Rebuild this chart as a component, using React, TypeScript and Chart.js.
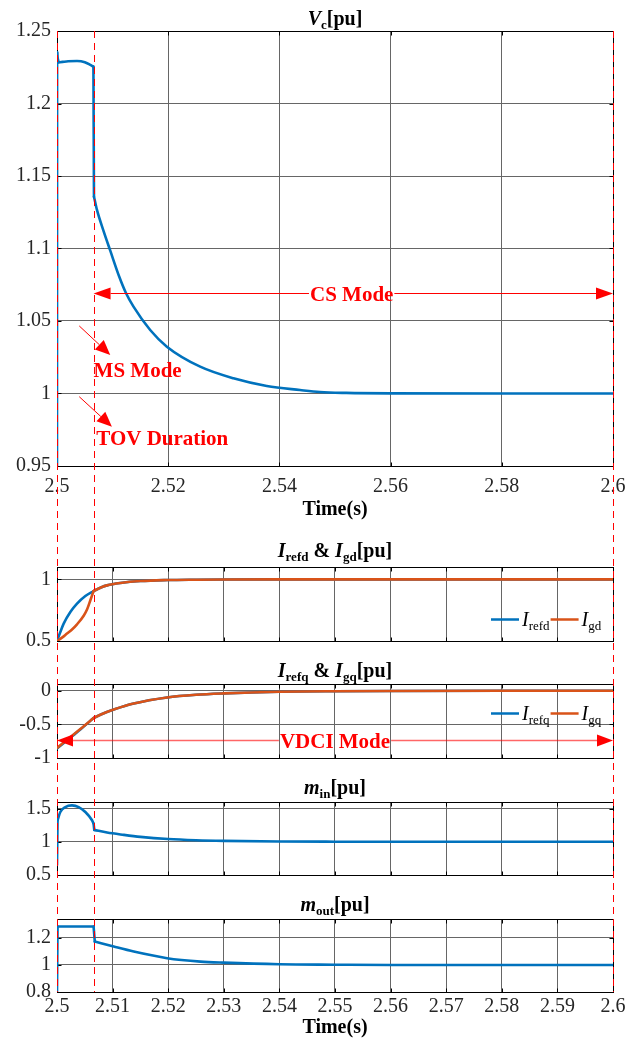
import React, { useEffect, useRef } from 'react';
import { Chart, registerables } from 'chart.js';

Chart.register(...registerables);

const FONT = "'Liberation Serif', 'Times New Roman', Times, serif";
const BLUE = '#0072BD';
const ORANGE = '#D95319';
const RED = '#FF0000';
const GRID = '#666666';
const TICK_TEXT = '#262626';

// ---- axis ticks ----
const X_TICKS_MAIN = [2.5, 2.52, 2.54, 2.56, 2.58, 2.6];
const X_TICKS_FINE = [2.5, 2.51, 2.52, 2.53, 2.54, 2.55, 2.56, 2.57, 2.58, 2.59, 2.6];
const Y_TICKS_VC = [0.95, 1, 1.05, 1.1, 1.15, 1.2, 1.25];
const Y_TICKS_ID = [0.5, 1];
const Y_TICKS_IQ = [-1, -0.5, 0];
const Y_TICKS_MIN = [0.5, 1, 1.5];
const Y_TICKS_MOUT = [0.8, 1, 1.2];

// ---- event instants (s) ----
const T_FAULT = 2.5;
const T_SWITCH = 2.50658;
const T_END = 2.6;

// ---- capacitor voltage ----
const T_VC = [2.5, 2.50002, 2.5001, 2.5003, 2.501, 2.502, 2.5036, 2.505, 2.506, 2.50655, 2.50665, 2.50719, 2.50838, 2.50958, 2.5112, 2.5124, 2.51376, 2.51676, 2.51976, 2.52575, 2.53173, 2.53773, 2.54371, 2.5473, 2.552, 2.56, 2.58, 2.6];
const VC = [0.95, 1.2353, 1.232, 1.2284, 1.2287, 1.2291, 1.2293, 1.2285, 1.2266, 1.2254, 1.1357, 1.1266, 1.112, 1.0985, 1.0805, 1.0693, 1.0599, 1.0438, 1.0323, 1.0185, 1.0105, 1.0052, 1.0024, 1.001, 1.0004, 1.0001, 1.0, 1.0];
const VC_BREAKS = [2.50002, 2.5003, 2.50655, 2.50665];

// ---- d-axis current ----
const T_REFD = [2.5, 2.5006, 2.5012, 2.5024, 2.5036, 2.5051, 2.50658, 2.508, 2.509, 2.5114, 2.515, 2.52, 2.525, 2.53, 2.54, 2.56, 2.6];
const IREFD = [0.5, 0.573, 0.641, 0.735, 0.803, 0.865, 0.905, 0.936, 0.951, 0.97, 0.986, 0.994, 0.997, 0.999, 1.0, 1.0, 1.0];
const T_GD = [2.5, 2.5009, 2.5018, 2.5027, 2.5036, 2.5048, 2.5054, 2.506, 2.50658, 2.508, 2.509, 2.5114, 2.515, 2.52, 2.525, 2.53, 2.54, 2.56, 2.6];
const IGD = [0.5, 0.527, 0.56, 0.593, 0.635, 0.705, 0.755, 0.83, 0.905, 0.936, 0.951, 0.97, 0.986, 0.994, 0.997, 0.999, 1.0, 1.0, 1.0];
const ID_BREAKS = [2.50658];

// ---- q-axis current ----
const T_Q = [2.5, 2.5018, 2.5042, 2.50658, 2.508, 2.5102, 2.5138, 2.5198, 2.525, 2.53, 2.54, 2.55, 2.56, 2.58, 2.6];
const IREFQ = [-0.86, -0.738, -0.576, -0.406, -0.35, -0.28, -0.19, -0.1, -0.06, -0.04, -0.016, -0.007, -0.003, 0, 0];
const IGQ = [-0.85, -0.728, -0.569, -0.406, -0.35, -0.28, -0.19, -0.1, -0.06, -0.04, -0.016, -0.007, -0.003, 0, 0];
const IQ_BREAKS = [2.50658];

// ---- modulation indices ----
const T_MIN = [2.5, 2.5001, 2.5006, 2.5015, 2.5027, 2.5039, 2.5051, 2.5063, 2.50658, 2.5067, 2.509, 2.512, 2.515, 2.52, 2.525, 2.53, 2.54, 2.55, 2.56, 2.6];
const M_IN = [0.651, 1.325, 1.449, 1.524, 1.549, 1.524, 1.449, 1.325, 1.275, 1.18, 1.14, 1.105, 1.075, 1.042, 1.024, 1.014, 1.005, 1.002, 1.0005, 1.0];
const MIN_BREAKS = [2.5001, 2.50658, 2.5067];
const T_MOUT = [2.5, 2.5001, 2.50658, 2.5068, 2.5102, 2.5138, 2.5198, 2.5258, 2.53, 2.54, 2.55, 2.56, 2.6];
const M_OUT = [0.8, 1.284, 1.284, 1.173, 1.136, 1.099, 1.05, 1.025, 1.017, 1.005, 1.002, 1.0, 1.0];
const MOUT_BREAKS = [2.5001, 2.50658, 2.5068];

// ---- annotation anchors (data coordinates) ----
const CS_MODE_V = 1.0693;
const CS_MODE_T = 2.553;
const MS_ARROW_FROM = { t: 2.504, v: 1.0466 };
const MS_ARROW_TO = { t: 2.50958, v: 1.0266 };
const MS_LABEL_AT = { t: 2.50658, v: 1.0116 };
const TOV_ARROW_FROM = { t: 2.504, v: 0.9978 };
const TOV_ARROW_TO = { t: 2.50988, v: 0.9771 };
const TOV_LABEL_AT = { t: 2.50706, v: 0.9645 };
const VDCI_V = -0.727;
const VDCI_T = 2.55;

type Seg = { t: string; it?: boolean; sub?: boolean };

function segFont(s: Seg, size: number, bold: boolean) {
  const sz = s.sub ? Math.round(size * 0.65) : size;
  return `${s.it ? 'italic ' : ''}${bold ? 'bold ' : ''}${sz}px ${FONT}`;
}

function drawRich(ctx: CanvasRenderingContext2D, segs: Seg[], x: number, baseline: number, size: number, bold: boolean, center: boolean) {
  let w = 0;
  for (const s of segs) {
    ctx.font = segFont(s, size, bold);
    w += ctx.measureText(s.t).width;
  }
  let cx = center ? x - w / 2 : x;
  ctx.textAlign = 'left';
  ctx.textBaseline = 'alphabetic';
  for (const s of segs) {
    ctx.font = segFont(s, size, bold);
    ctx.fillText(s.t, cx, s.sub ? baseline + size * 0.2 : baseline);
    cx += ctx.measureText(s.t).width;
  }
  return cx;
}

function arrow(ctx: CanvasRenderingContext2D, x0: number, y0: number, x1: number, y1: number, len: number, half: number) {
  const a = Math.atan2(y1 - y0, x1 - x0);
  const bx = x1 - len * Math.cos(a);
  const by = y1 - len * Math.sin(a);
  ctx.beginPath();
  ctx.moveTo(x0, y0);
  ctx.lineTo(bx, by);
  ctx.stroke();
  ctx.beginPath();
  ctx.moveTo(x1, y1);
  ctx.lineTo(bx + half * Math.sin(a), by - half * Math.cos(a));
  ctx.lineTo(bx - half * Math.sin(a), by + half * Math.cos(a));
  ctx.closePath();
  ctx.fill();
}

// Split a waveform at its switching instants so each smooth stretch is
// interpolated on its own and the jumps stay sharp.
function pieces(t: number[], v: number[], breaks: number[]) {
  const out: { x: number; y: number }[][] = [];
  let cur: { x: number; y: number }[] = [];
  t.forEach((ti, i) => {
    cur.push({ x: ti, y: v[i] });
    if (breaks.includes(ti) && i < t.length - 1) {
      out.push(cur);
      cur = [{ x: ti, y: v[i] }];
    }
  });
  if (cur.length > 1) out.push(cur);
  return out;
}

type Series = { t: number[]; v: number[]; breaks: number[]; color: string; order: number };
type LegendItem = { color: string; label: Seg[] };
type Panel = {
  top: number;
  height: number;
  padTop: number;
  xAxisH: number;
  showX: boolean;
  xTicks: number[];
  tickPad: number;
  titlePad: number;
  yMin: number;
  yMax: number;
  yTicks: number[];
  title: Seg[];
  titleGap: number;
  series: Series[];
  legend?: { items: LegendItem[]; fromRight: number; fromBottom: number };
  annotate?: (ctx: CanvasRenderingContext2D, sx: any, sy: any) => void;
};

function annotateVc(ctx: CanvasRenderingContext2D, sx: any, sy: any) {
  ctx.fillStyle = RED;
  ctx.strokeStyle = RED;
  ctx.lineWidth = 1;
  ctx.font = `bold 21px ${FONT}`;
  ctx.textBaseline = 'alphabetic';

  // CS Mode span arrow
  const y = Math.round(sy.getPixelForValue(CS_MODE_V)) + 0.5;
  const xl = sx.getPixelForValue(T_SWITCH);
  const xr = sx.getPixelForValue(T_END);
  const xc = sx.getPixelForValue(CS_MODE_T);
  const w = ctx.measureText('CS Mode').width;
  ctx.textAlign = 'center';
  ctx.fillText('CS Mode', xc, y + 7);
  arrow(ctx, xc - w / 2 - 1, y, xl, y, 17, 6);
  arrow(ctx, xc + w / 2 + 1, y, xr, y, 17, 6);

  // MS Mode pointer
  arrow(ctx, sx.getPixelForValue(MS_ARROW_FROM.t), sy.getPixelForValue(MS_ARROW_FROM.v), sx.getPixelForValue(MS_ARROW_TO.t), sy.getPixelForValue(MS_ARROW_TO.v), 15, 6.5);
  ctx.textAlign = 'left';
  ctx.fillText('MS Mode', sx.getPixelForValue(MS_LABEL_AT.t), sy.getPixelForValue(MS_LABEL_AT.v));

  // TOV duration pointer
  arrow(ctx, sx.getPixelForValue(TOV_ARROW_FROM.t), sy.getPixelForValue(TOV_ARROW_FROM.v), sx.getPixelForValue(TOV_ARROW_TO.t), sy.getPixelForValue(TOV_ARROW_TO.v), 15, 6.5);
  ctx.fillText('TOV Duration', sx.getPixelForValue(TOV_LABEL_AT.t), sy.getPixelForValue(TOV_LABEL_AT.v));
}

function annotateIq(ctx: CanvasRenderingContext2D, sx: any, sy: any) {
  ctx.font = `bold 21px ${FONT}`;
  const y = Math.round(sy.getPixelForValue(VDCI_V)) + 0.5;
  const xl = sx.getPixelForValue(T_FAULT);
  const xr = sx.getPixelForValue(T_END);
  const xc = sx.getPixelForValue(VDCI_T);
  const w = ctx.measureText('VDCI Mode').width;
  ctx.strokeStyle = 'rgba(255,0,0,0.6)';
  ctx.fillStyle = RED;
  ctx.lineWidth = 1.5;
  arrow(ctx, xc - w / 2 - 1, y, xl, y, 16, 6);
  arrow(ctx, xc + w / 2 + 1, y, xr, y, 16, 6);
  ctx.fillStyle = RED;
  ctx.textAlign = 'center';
  ctx.textBaseline = 'alphabetic';
  ctx.fillText('VDCI Mode', xc, y + 7);
}

const PANELS: Panel[] = [
  {
    top: 0, height: 530, padTop: 31, xAxisH: 64, showX: true, xTicks: X_TICKS_MAIN, tickPad: 9, titlePad: 8,
    yMin: 0.95, yMax: 1.25, yTicks: Y_TICKS_VC,
    title: [{ t: 'V', it: true }, { t: 'c', sub: true }, { t: '[pu]' }], titleGap: 6,
    series: [{ t: T_VC, v: VC, breaks: VC_BREAKS, color: BLUE, order: 0 }],
    annotate: annotateVc,
  },
  {
    top: 530, height: 120, padTop: 37, xAxisH: 9, showX: false, xTicks: X_TICKS_FINE, tickPad: 0, titlePad: 0,
    yMin: 0.5, yMax: 1.1, yTicks: Y_TICKS_ID,
    title: [{ t: 'I', it: true }, { t: 'refd', sub: true }, { t: ' & ' }, { t: 'I', it: true }, { t: 'gd', sub: true }, { t: '[pu]' }], titleGap: 10.5,
    series: [
      { t: T_GD, v: IGD, breaks: ID_BREAKS, color: ORANGE, order: 0 },
      { t: T_REFD, v: IREFD, breaks: ID_BREAKS, color: BLUE, order: 1 },
    ],
    legend: {
      items: [
        { color: BLUE, label: [{ t: 'I', it: true }, { t: 'refd', sub: true }] },
        { color: ORANGE, label: [{ t: 'I', it: true }, { t: 'gd', sub: true }] },
      ],
      fromRight: 122, fromBottom: 22,
    },
  },
  {
    top: 650, height: 115, padTop: 34, xAxisH: 7, showX: false, xTicks: X_TICKS_FINE, tickPad: 0, titlePad: 0,
    yMin: -1, yMax: 0.1, yTicks: Y_TICKS_IQ,
    title: [{ t: 'I', it: true }, { t: 'refq', sub: true }, { t: ' & ' }, { t: 'I', it: true }, { t: 'gq', sub: true }, { t: '[pu]' }], titleGap: 7.5,
    series: [
      { t: T_Q, v: IGQ, breaks: IQ_BREAKS, color: ORANGE, order: 0 },
      { t: T_Q, v: IREFQ, breaks: IQ_BREAKS, color: BLUE, order: 1 },
    ],
    legend: {
      items: [
        { color: BLUE, label: [{ t: 'I', it: true }, { t: 'refq', sub: true }] },
        { color: ORANGE, label: [{ t: 'I', it: true }, { t: 'gq', sub: true }] },
      ],
      fromRight: 122, fromBottom: 45,
    },
    annotate: annotateIq,
  },
  {
    top: 765, height: 120, padTop: 37, xAxisH: 10, showX: false, xTicks: X_TICKS_FINE, tickPad: 0, titlePad: 0,
    yMin: 0.5, yMax: 1.6, yTicks: Y_TICKS_MIN,
    title: [{ t: 'm', it: true }, { t: 'in', sub: true }, { t: '[pu]' }], titleGap: 8.5,
    series: [{ t: T_MIN, v: M_IN, breaks: MIN_BREAKS, color: BLUE, order: 0 }],
  },
  {
    top: 885, height: 157, padTop: 34, xAxisH: 50, showX: true, xTicks: X_TICKS_FINE, tickPad: 3, titlePad: 2,
    yMin: 0.8, yMax: 1.34, yTicks: Y_TICKS_MOUT,
    title: [{ t: 'm', it: true }, { t: 'out', sub: true }, { t: '[pu]' }], titleGap: 8.5,
    series: [{ t: T_MOUT, v: M_OUT, breaks: MOUT_BREAKS, color: BLUE, order: 0 }],
  },
];

function decorPlugin(p: Panel) {
  return {
    id: 'axesDecor',
    beforeDatasetsDraw(chart: any) {
      const { ctx, chartArea: a, scales } = chart;
      ctx.save();
      ctx.strokeStyle = '#000';
      ctx.lineWidth = 1;
      const l = Math.round(a.left) + 0.5;
      const r = Math.round(a.right) + 0.5;
      const t = Math.round(a.top) + 0.5;
      const b = Math.round(a.bottom) + 0.5;
      ctx.strokeRect(l, t, r - l, b - t);
      const L = 4;
      ctx.beginPath();
      for (const v of p.xTicks) {
        const x = Math.round(scales.x.getPixelForValue(v)) + 0.5;
        ctx.moveTo(x, t); ctx.lineTo(x, t + L);
        ctx.moveTo(x, b); ctx.lineTo(x, b - L);
      }
      for (const v of p.yTicks) {
        const y = Math.round(scales.y.getPixelForValue(v)) + 0.5;
        ctx.moveTo(l, y); ctx.lineTo(l + L, y);
        ctx.moveTo(r, y); ctx.lineTo(r - L, y);
      }
      ctx.stroke();
      ctx.restore();
    },
    afterDatasetsDraw(chart: any) {
      const { ctx, chartArea: a, scales } = chart;
      ctx.save();
      ctx.fillStyle = '#000';
      drawRich(ctx, p.title, (a.left + a.right) / 2, a.top - p.titleGap, 20, true, true);
      if (p.legend) {
        let cx = a.right - p.legend.fromRight;
        const y = Math.round(a.bottom - p.legend.fromBottom) + 0.5;
        for (const it of p.legend.items) {
          ctx.strokeStyle = it.color;
          ctx.lineWidth = 2.5;
          ctx.beginPath();
          ctx.moveTo(cx, y);
          ctx.lineTo(cx + 28, y);
          ctx.stroke();
          cx += 31;
          ctx.fillStyle = '#000';
          cx = drawRich(ctx, it.label, cx, y + 6, 20, false, false) + 1;
        }
      }
      if (p.annotate) {
        ctx.save();
        p.annotate(ctx, scales.x, scales.y);
        ctx.restore();
      }
      ctx.restore();
    },
  };
}

function buildConfig(p: Panel): any {
  const datasets: any[] = [];
  for (const s of p.series) {
    for (const piece of pieces(s.t, s.v, s.breaks)) {
      datasets.push({
        data: piece,
        borderColor: s.color,
        backgroundColor: s.color,
        borderWidth: 2.6,
        pointRadius: 0,
        showLine: true,
        cubicInterpolationMode: 'monotone',
        borderJoinStyle: 'round',
        borderCapStyle: 'round',
        order: s.order,
      });
    }
  }
  return {
    type: 'scatter',
    data: { datasets },
    options: {
      responsive: false,
      animation: false,
      devicePixelRatio: 1,
      events: [],
      layout: { padding: { left: 0, right: 22, top: p.padTop, bottom: 0 } },
      plugins: { legend: { display: false }, tooltip: { enabled: false }, title: { display: false } },
      scales: {
        x: {
          type: 'linear',
          min: T_FAULT,
          max: T_END,
          afterBuildTicks: (s: any) => { s.ticks = p.xTicks.map((v) => ({ value: v })); },
          afterFit: (s: any) => { s.height = p.xAxisH; s.paddingLeft = 0; s.paddingRight = 0; },
          grid: { color: GRID, lineWidth: 1, drawTicks: false },
          border: { display: false },
          ticks: {
            display: p.showX,
            autoSkip: false,
            maxRotation: 0,
            padding: p.tickPad,
            color: TICK_TEXT,
            font: { family: FONT, size: 20 },
            callback: (v: number) => String(v),
          },
          title: {
            display: p.showX,
            text: 'Time(s)',
            color: '#000',
            font: { family: FONT, size: 20, weight: 'bold' },
            padding: { top: 0, bottom: p.titlePad },
          },
        },
        y: {
          type: 'linear',
          min: p.yMin,
          max: p.yMax,
          afterBuildTicks: (s: any) => { s.ticks = p.yTicks.map((v) => ({ value: v })); },
          afterFit: (s: any) => { s.width = 57; s.paddingTop = 0; s.paddingBottom = 0; },
          grid: { color: GRID, lineWidth: 1, drawTicks: false },
          border: { display: false },
          ticks: {
            padding: 6,
            color: TICK_TEXT,
            font: { family: FONT, size: 20 },
            callback: (v: number) => String(v),
          },
        },
      },
    },
    plugins: [decorPlugin(p)],
  };
}

export default function App() {
  const canvasRefs = useRef<(HTMLCanvasElement | null)[]>([]);
  const overlayRef = useRef<HTMLCanvasElement | null>(null);

  useEffect(() => {
    const charts = PANELS.map((p, i) => new Chart(canvasRefs.current[i] as HTMLCanvasElement, buildConfig(p)));

    // event markers spanning every panel
    const ov = overlayRef.current;
    if (ov) {
      const ctx = ov.getContext('2d') as CanvasRenderingContext2D;
      ctx.clearRect(0, 0, ov.width, ov.height);
      const first = charts[0];
      const last = charts[charts.length - 1];
      const yTop = PANELS[0].top + first.chartArea.top;
      const yBot = PANELS[PANELS.length - 1].top + last.chartArea.bottom;
      ctx.strokeStyle = RED;
      ctx.lineWidth = 1;
      ctx.setLineDash([7, 5]);
      for (const t of [T_FAULT, T_SWITCH, T_END]) {
        const x = Math.round(first.scales.x.getPixelForValue(t)) + 0.5;
        ctx.beginPath();
        ctx.moveTo(x, yTop);
        ctx.lineTo(x, yBot);
        ctx.stroke();
      }
    }
    return () => charts.forEach((c) => c.destroy());
  }, []);

  return (
    <div style={{ position: 'absolute', left: 0, top: 0, width: 635, height: 1042, background: '#fff' }}>
      {PANELS.map((p, i) => (
        <canvas
          key={i}
          ref={(el) => { canvasRefs.current[i] = el; }}
          width={635}
          height={p.height}
          style={{ position: 'absolute', left: 0, top: p.top, width: 635, height: p.height }}
        />
      ))}
      <canvas
        ref={overlayRef}
        width={635}
        height={1042}
        style={{ position: 'absolute', left: 0, top: 0, width: 635, height: 1042, pointerEvents: 'none' }}
      />
    </div>
  );
}
